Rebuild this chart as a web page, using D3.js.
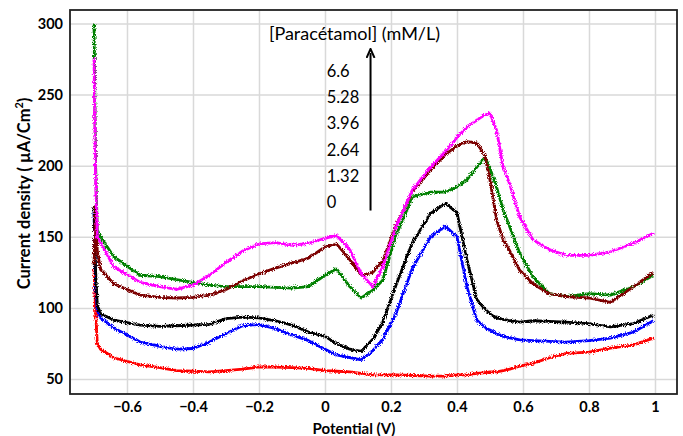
<!DOCTYPE html>
<html>
<head>
<meta charset="utf-8">
<script src="https://cdn.jsdelivr.net/npm/d3@7"></script>
<style>
  body { margin: 0; background: #fff; }
  text { font-family: Lato, 'Open Sans', sans-serif; fill: #000; }
  .tick text { font-weight: bold; font-size: 14.5px; }
  .axisTitle { font-weight: bold; font-size: 15px; }
  .legend { font-size: 16.5px; }
</style>
</head>
<body>
<div id="chart"></div>
<script>
// potential (V), shared by every scan
const potential = [-0.700, -0.695, -0.690, -0.680, -0.640, -0.560, -0.500, -0.450, -0.400, -0.350,
  -0.300, -0.250, -0.200, -0.150, -0.100, -0.050, 0.000, 0.035, 0.075, 0.110,
  0.145, 0.175, 0.215, 0.265, 0.320, 0.365, 0.400, 0.430, 0.460, 0.485,
  0.500, 0.520, 0.540, 0.560, 0.590, 0.630, 0.680, 0.730, 0.800, 0.865, 0.935, 0.995]

// current density (µA/cm²), one array per concentration
const conc0 = [128, 97, 75, 71, 65, 60, 58, 56, 55.5, 55,
  56, 57, 58.5, 58.5, 58, 57.5, 56, 55.5, 55, 54,
  53, 53, 53, 52.5, 52, 52, 53, 53, 54, 54.5,
  55, 55, 56, 57, 59, 61, 65, 68, 69, 71.8, 74, 78.8]
const conc132 = [168, 115, 98, 93, 86, 76, 73, 71, 71.5, 76,
  82, 87.5, 88.5, 85.5, 81, 77, 71, 67, 65, 63.5,
  70, 78, 96, 128, 150, 157.5, 150, 115, 91.5, 86,
  84.5, 82, 80, 79, 77.5, 77, 76.5, 76, 77, 78.8, 83, 91]
const conc264 = [172, 125, 102, 96, 91.5, 88, 87, 87.5, 88, 88.5,
  92.5, 93.5, 93, 91, 88, 83, 80, 75, 71, 69.5,
  78, 90, 116, 146, 166.5, 173.5, 167, 134, 106, 99,
  96, 93, 92, 91, 90, 91, 90.5, 90, 89, 86.7, 89, 95]
const conc396 = [300, 200, 155, 150, 136, 123, 122, 120, 118, 116,
  115, 115, 115, 114.5, 114, 115, 123, 127.5, 115, 107,
  112.5, 119.5, 151, 178, 181.5, 181.5, 185, 190, 199, 206,
  198, 185, 169, 157, 138.5, 122, 110, 108, 110, 109, 115, 123]
const conc528 = [130, 172, 140, 127, 117, 109, 107.5, 107, 107.5, 109,
  113, 119, 124, 128, 131.5, 135, 143, 145, 134, 123,
  125, 133, 158, 182, 197, 208, 214, 217, 216, 207,
  190, 162, 148, 140, 126.5, 117, 110, 108, 107, 104, 115, 125]
const conc66 = [276, 188, 150, 146, 129, 118, 115, 113, 116, 123,
  132, 140, 145, 146, 144, 145.5, 149, 151, 141, 124,
  115, 129, 157, 183, 199, 210, 220, 227, 232, 236,
  237, 225, 199, 187, 164, 148, 141, 137, 137, 139.5, 145.5, 152.5]

const seriesNames = ['0', '1.32', '2.64', '3.96', '5.28', '6.6']
const seriesValues = [conc0, conc132, conc264, conc396, conc528, conc66]
const seriesColors = ['#ff0000', '#0000ff', '#000000', '#008000', '#7b0000', '#ff00ff']

const xTicks = [-0.6, -0.4, -0.2, 0, 0.2, 0.4, 0.6, 0.8, 1]
const yTicks = [50, 100, 150, 200, 250, 300]

const width = 683
const height = 436
const margin = {top: 10, right: 6, bottom: 42, left: 70}

const svg = d3.select('#chart').append('svg')
  .attr('width', width)
  .attr('height', height)

const x = d3.scaleLinear().domain([-0.7727, 1.0667]).range([margin.left, width - margin.right])
const y = d3.scaleLinear().domain([39.5, 309.5]).range([height - margin.bottom, margin.top])

// rough pen look of the measured scans
const defs = svg.append('defs')
const filt = defs.append('filter').attr('id', 'noisy')
  .attr('x', '-5%').attr('y', '-5%').attr('width', '110%').attr('height', '110%')
filt.append('feTurbulence').attr('type', 'fractalNoise').attr('baseFrequency', 1.1)
  .attr('numOctaves', 1).attr('seed', 3).attr('result', 'turb')
filt.append('feDisplacementMap').attr('in', 'SourceGraphic').attr('in2', 'turb')
  .attr('scale', 5).attr('xChannelSelector', 'R').attr('yChannelSelector', 'G')

// grid
svg.append('g')
  .attr('transform', `translate(0,${height - margin.bottom})`)
  .call(d3.axisBottom(x).tickValues(xTicks).tickSize(-(height - margin.top - margin.bottom)).tickFormat(''))
  .call(g => g.select('.domain').remove())
  .call(g => g.selectAll('line').attr('stroke', '#d9d9d9').attr('stroke-width', 1.5))
svg.append('g')
  .attr('transform', `translate(${margin.left},0)`)
  .call(d3.axisLeft(y).tickValues(yTicks).tickSize(-(width - margin.left - margin.right)).tickFormat(''))
  .call(g => g.select('.domain').remove())
  .call(g => g.selectAll('line').attr('stroke', '#d9d9d9').attr('stroke-width', 1.5))

// curves
let line = d3.line()
  .x((d, i) => x(potential[i]))
  .y(d => y(d))

svg.append('g').attr('filter', 'url(#noisy)')
  .selectAll('path').data(seriesValues).enter().append('path')
  .attr('d', d => line(d))
  .attr('fill', 'none')
  .attr('stroke', (d, i) => seriesColors[i])
  .attr('stroke-width', 2.8)
  .attr('stroke-linejoin', 'round')

// plot frame
svg.append('rect')
  .attr('x', margin.left).attr('y', margin.top)
  .attr('width', width - margin.left - margin.right)
  .attr('height', height - margin.top - margin.bottom)
  .attr('fill', 'none').attr('stroke', '#222').attr('stroke-width', 1.8)

// tick labels
svg.append('g')
  .attr('transform', `translate(0,${height - margin.bottom})`)
  .call(d3.axisBottom(x).tickValues(xTicks).tickSize(0).tickPadding(8).tickFormat(d3.format('')))
  .call(g => g.select('.domain').remove())
svg.append('g')
  .attr('transform', `translate(${margin.left},0)`)
  .call(d3.axisLeft(y).tickValues(yTicks).tickSize(0).tickPadding(7))
  .call(g => g.select('.domain').remove())
svg.selectAll('.tick text').attr('font-family', null)

// axis titles
svg.append('text').attr('class', 'axisTitle')
  .attr('x', x(0.088)).attr('y', 434)
  .attr('text-anchor', 'middle')
  .text('Potential (V)')
let yt = svg.append('text').attr('class', 'axisTitle')
  .attr('transform', `translate(30,${y(180.5)}) rotate(-90)`)
  .attr('text-anchor', 'middle')
  .style('font-size', '16.5px')
yt.append('tspan').text('Current density ( µA/Cm')
yt.append('tspan').attr('dy', -7).attr('font-size', 11).text('2')
yt.append('tspan').attr('dy', 7).text(')')

// concentration legend
svg.append('text').attr('class', 'legend')
  .attr('x', x(-0.17)).attr('y', y(288.5))
  .style('font-size', '18px')
  .text('[Paracétamol] (mM/L)')
defs.append('marker').attr('id', 'arrow')
  .attr('viewBox', '0 0 10 10').attr('refX', 5).attr('refY', 5)
  .attr('markerWidth', 5).attr('markerHeight', 5).attr('orient', 'auto')
  .append('path').attr('d', 'M0,1 L9,5 L0,9').attr('fill', 'none').attr('stroke', '#000').attr('stroke-width', 2)
svg.append('line')
  .attr('x1', x(0.138)).attr('x2', x(0.138))
  .attr('y1', y(168.5)).attr('y2', y(279.3))
  .attr('stroke', '#000').attr('stroke-width', 2)
  .attr('marker-end', 'url(#arrow)')
svg.append('g').selectAll('text').data(seriesNames.slice().reverse()).enter().append('text')
  .attr('class', 'legend')
  .attr('x', x(0.005))
  .attr('y', (d, i) => y(265.3) + i * 26.2)
  .attr('dominant-baseline', 'middle')
  .text(d => d)
</script>
</body>
</html>
